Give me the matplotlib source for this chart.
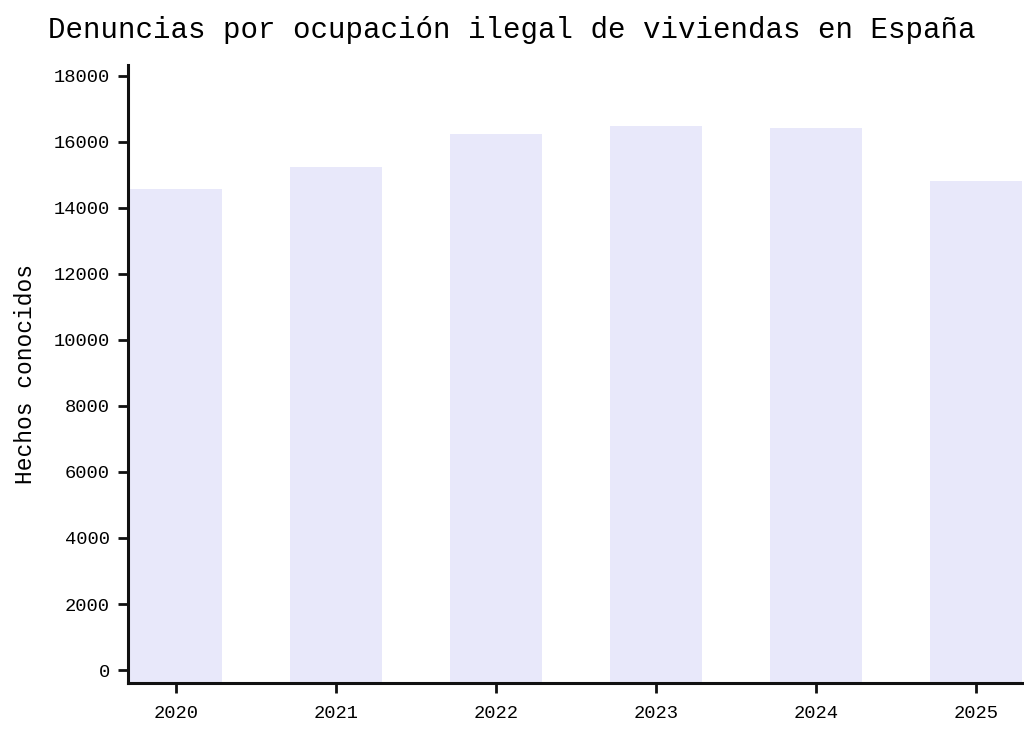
import matplotlib
matplotlib.use('Agg')
import matplotlib.pyplot as plt

YEARS = ['2020', '2021', '2022', '2023', '2024', '2025']
HECHOS = [14580, 15250, 16240, 16480, 16430, 14820]
YTICKS = [0, 2000, 4000, 6000, 8000, 10000, 12000, 14000, 16000, 18000]

BAR_COLOUR = '#E8E8FA'
FONT = ['Liberation Mono', 'DejaVu Sans Mono']
Y_MIN = -390
Y_MAX = 18320

plt.rcParams['font.family'] = FONT

fig = plt.figure(figsize=(10.24, 7.32), dpi=100)
ax = fig.add_axes([0.125, 0.067, 0.875, 0.844])

xs = list(range(len(YEARS)))
# bars run down to the offset bottom spine, as in the original
ax.bar(xs, [h - Y_MIN for h in HECHOS], bottom=Y_MIN, width=0.58, color=BAR_COLOUR)

ax.set_xlim(-0.3, len(YEARS) - 0.7)
ax.set_ylim(Y_MIN, Y_MAX)
ax.set_xticks(xs)
ax.set_xticklabels(YEARS)
ax.set_yticks(YTICKS)

ax.spines['right'].set_visible(False)
ax.spines['top'].set_visible(False)
for s in ('left', 'bottom'):
    ax.spines[s].set_linewidth(2.2)
    ax.spines[s].set_color('#111111')

ax.tick_params(axis='both', direction='out', length=7, width=2, labelsize=13.5, color='#111111')
ax.tick_params(axis='x', pad=9)
ax.tick_params(axis='y', pad=6)
ax.set_ylabel('Hechos conocidos', fontsize=16.5, labelpad=12)

fig.suptitle('Denuncias por ocupación ilegal de viviendas en España', fontsize=21, x=0.5, y=0.978, va='top')

fig.savefig('out.png', dpi=100)
